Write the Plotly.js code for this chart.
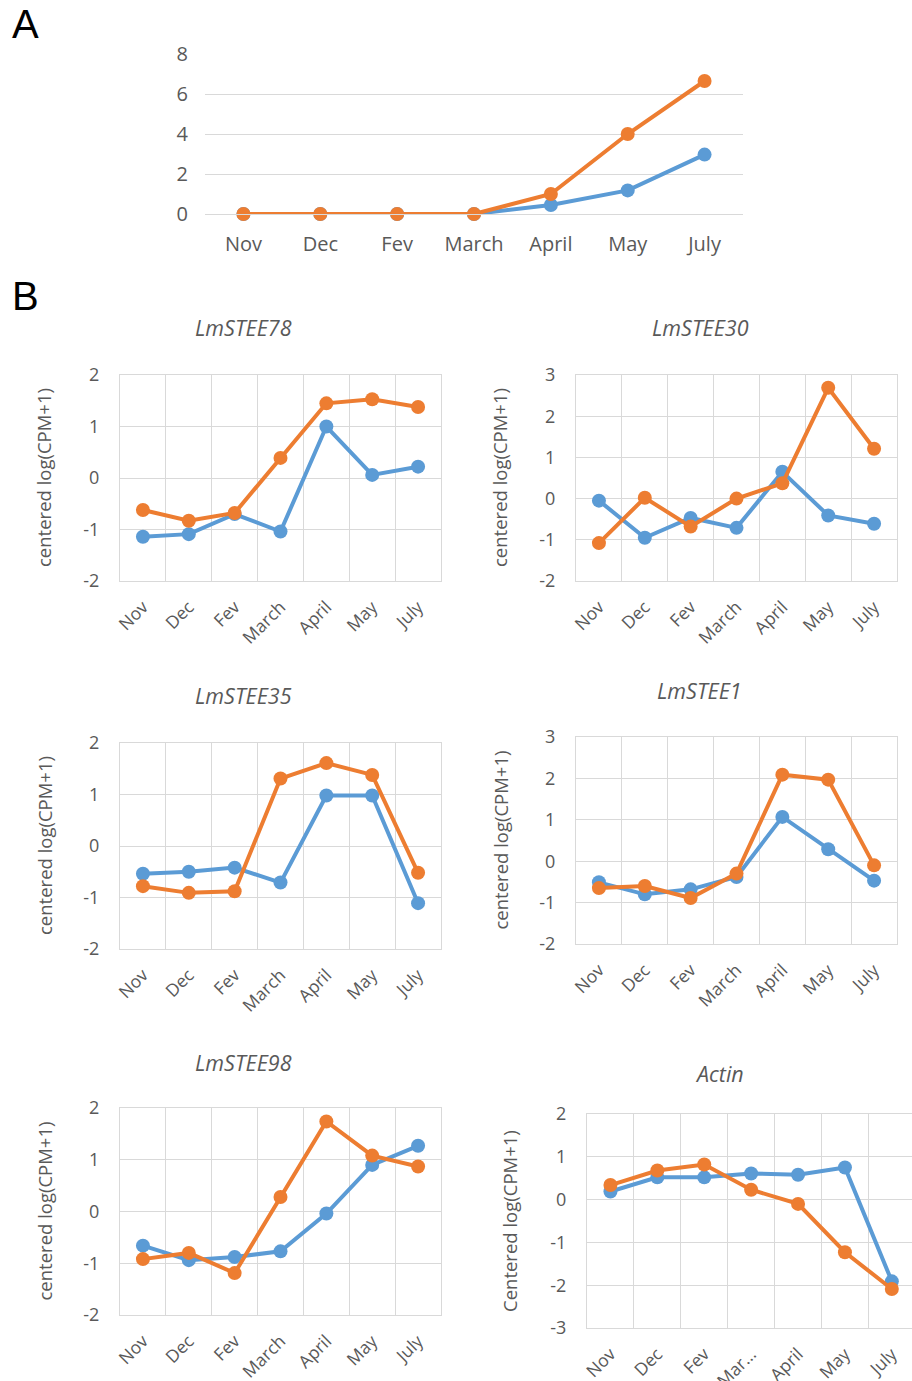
<!DOCTYPE html>
<html>
<head>
<meta charset="utf-8">
<script src="https://cdn.plot.ly/plotly-3.0.1.min.js"></script>
<style>
html,body{margin:0;padding:0;background:#fff;}
#chart{width:912px;height:1381px;}
</style>
</head>
<body>
<div id="chart"></div>
<script>
// ---------- data ----------
const months = ["Nov", "Dec", "Fev", "March", "April", "May", "July"];
const monthsActin = ["Nov", "Dec", "Fev", "Mar...", "April", "May", "July"];

const panelA_blue   = [0, 0, 0, 0, 0.45, 1.18, 2.97];
const panelA_orange = [0, 0, 0, 0, 1.0, 4.0, 6.65];

const geneNames = ["LmSTEE78", "LmSTEE30", "LmSTEE35", "LmSTEE1", "LmSTEE98", "Actin"];

const stee78_blue   = [-1.14, -1.09, -0.70, -1.04, 1.00, 0.06, 0.22];
const stee78_orange = [-0.62, -0.83, -0.68, 0.39, 1.45, 1.53, 1.38];

const stee30_blue   = [-0.05, -0.95, -0.47, -0.71, 0.65, -0.41, -0.61];
const stee30_orange = [-1.08, 0.02, -0.68, 0.00, 0.37, 2.69, 1.21];

const stee35_blue   = [-0.54, -0.50, -0.42, -0.71, 0.98, 0.98, -1.11];
const stee35_orange = [-0.78, -0.91, -0.88, 1.31, 1.61, 1.38, -0.52];

const stee1_blue    = [-0.51, -0.80, -0.68, -0.38, 1.07, 0.29, -0.47];
const stee1_orange  = [-0.65, -0.60, -0.89, -0.30, 2.09, 1.97, -0.10];

const stee98_blue   = [-0.66, -0.94, -0.88, -0.77, -0.04, 0.90, 1.27];
const stee98_orange = [-0.92, -0.80, -1.19, 0.28, 1.74, 1.08, 0.87];

const actin_blue    = [0.19, 0.52, 0.52, 0.61, 0.58, 0.75, -1.91];
const actin_orange  = [0.34, 0.68, 0.82, 0.23, -0.10, -1.23, -2.09];

// ---------- styling ----------
const W = 912, H = 1381;
const BLUE = "#5B9BD5", ORANGE = "#ED7D31";
const GRID = "#d9d9d9", TXT = "#595959";
const fontB = "Open Sans, Noto Sans, sans-serif";
const fontA = "Open Sans, Noto Sans, sans-serif";

function xd(l, r) { return [l / W, Math.min(1, r / W)]; }
function yd(t, b) { return [1 - b / H, 1 - t / H]; }
function intTicks(lo, hi, step) {
  const v = [];
  for (let t = lo; t <= hi + 1e-9; t += step) v.push(t);
  return v;
}

const traces = [];
const layout = {
  width: W, height: H,
  margin: {l: 0, r: 0, t: 0, b: 0},
  paper_bgcolor: "#fff", plot_bgcolor: "rgba(0,0,0,0)",
  showlegend: false,
  annotations: []
};

function addSeries(idx, cats, blue, orange, lw, ms) {
  const xa = idx === 1 ? "x" : "x" + idx;
  const ya = idx === 1 ? "y" : "y" + idx;
  [[blue, BLUE], [orange, ORANGE]].forEach(([vals, col]) => {
    traces.push({
      type: "scatter", mode: "lines+markers",
      x: cats, y: vals, xaxis: xa, yaxis: ya,
      line: {color: col, width: lw},
      marker: {color: col, size: ms},
      cliponaxis: false, hoverinfo: "skip"
    });
  });
}

// Panel A
addSeries(1, months, panelA_blue, panelA_orange, 4, 14);
const aTicks = intTicks(0, 8, 2);
layout.xaxis = {
  domain: xd(205, 743), anchor: "y", type: "category", range: [-0.5, 6.5],
  showgrid: false, zeroline: false, showline: true, linecolor: GRID, linewidth: 1,
  ticks: "", ticklabelstandoff: 12,
  tickfont: {family: fontA, size: 20, color: TXT}, fixedrange: true
};
layout.yaxis = {
  domain: yd(54, 214), anchor: "x", range: [0, 8],
  tickvals: aTicks, ticktext: aTicks.map(String),
  showgrid: true, gridcolor: GRID, gridwidth: 1, zeroline: false, showline: false,
  ticks: "", ticklabelstandoff: 16,
  tickfont: {family: fontA, size: 20, color: TXT}, fixedrange: true
};

// Panel B subplots
const subs = [
  {cats: months, b: stee78_blue, o: stee78_orange, x: [120, 441], y: [375, 581], yr: [-2, 2], tx: 243, ty: 327, ytx: 44, yt: "centered log(CPM+1)"},
  {cats: months, b: stee30_blue, o: stee30_orange, x: [576, 897], y: [375, 581], yr: [-2, 3], tx: 700, ty: 327, ytx: 500, yt: "centered log(CPM+1)"},
  {cats: months, b: stee35_blue, o: stee35_orange, x: [120, 441], y: [743, 949], yr: [-2, 2], tx: 243, ty: 696, ytx: 44, yt: "centered log(CPM+1)"},
  {cats: months, b: stee1_blue, o: stee1_orange, x: [576, 897], y: [737, 944], yr: [-2, 3], tx: 699, ty: 690, ytx: 500, yt: "centered log(CPM+1)"},
  {cats: months, b: stee98_blue, o: stee98_orange, x: [120, 441], y: [1108, 1315], yr: [-2, 2], tx: 243, ty: 1062, ytx: 44, yt: "centered log(CPM+1)"},
  {cats: monthsActin, b: actin_blue, o: actin_orange, x: [587, 912], y: [1114, 1328], yr: [-3, 2], tx: 719, ty: 1073, ytx: 509, yt: "Centered log(CPM+1)", xr: [-0.5, 6.43]}
];

subs.forEach((s, i) => {
  const idx = i + 2;
  addSeries(idx, s.cats, s.b, s.o, 4, 14);
  const tv = intTicks(s.yr[0], s.yr[1], 1);
  layout["xaxis" + idx] = {
    domain: xd(s.x[0], s.x[1]), anchor: "y" + idx, type: "category",
    range: s.xr || [-0.5, 6.5], tickson: "boundaries",
    showgrid: true, gridcolor: GRID, gridwidth: 1, zeroline: false,
    showline: true, mirror: true, linecolor: GRID, linewidth: 1,
    ticks: "", tickangle: -45, ticklabelstandoff: 8,
    tickfont: {family: fontB, size: 17.5, color: TXT}, fixedrange: true
  };
  layout["yaxis" + idx] = {
    domain: yd(s.y[0], s.y[1]), anchor: "x" + idx, range: s.yr,
    tickvals: tv, ticktext: tv.map(String),
    showgrid: true, gridcolor: GRID, gridwidth: 1, zeroline: false,
    showline: true, mirror: true, linecolor: GRID, linewidth: 1,
    ticks: "", ticklabelstandoff: 16,
    tickfont: {family: fontB, size: 18, color: TXT}, fixedrange: true
  };
  layout.annotations.push({
    xref: "paper", yref: "paper", x: s.tx / W, y: 1 - s.ty / H,
    xanchor: "center", yanchor: "middle", showarrow: false,
    text: "<i>" + geneNames[i] + "</i>",
    font: {family: fontB, size: 21.5, color: TXT}
  });
  layout.annotations.push({
    xref: "paper", yref: "paper", x: s.ytx / W, y: 1 - (s.y[0] + s.y[1]) / 2 / H,
    xanchor: "center", yanchor: "middle", showarrow: false, textangle: -90,
    text: s.yt,
    font: {family: fontB, size: 18.5, color: TXT}
  });
});

// Panel letters
layout.annotations.push({xref: "paper", yref: "paper", x: 10 / W, y: 1 - 24 / H, xanchor: "left", yanchor: "middle",
  showarrow: false, text: "A", font: {family: "Liberation Sans, Arial, sans-serif", size: 40, color: "#000"}});
layout.annotations.push({xref: "paper", yref: "paper", x: 10 / W, y: 1 - 296 / H, xanchor: "left", yanchor: "middle",
  showarrow: false, text: "B", font: {family: "Liberation Sans, Arial, sans-serif", size: 40, color: "#000"}});

Plotly.newPlot("chart", traces, layout, {staticPlot: true, displayModeBar: false});
</script>
</body>
</html>
